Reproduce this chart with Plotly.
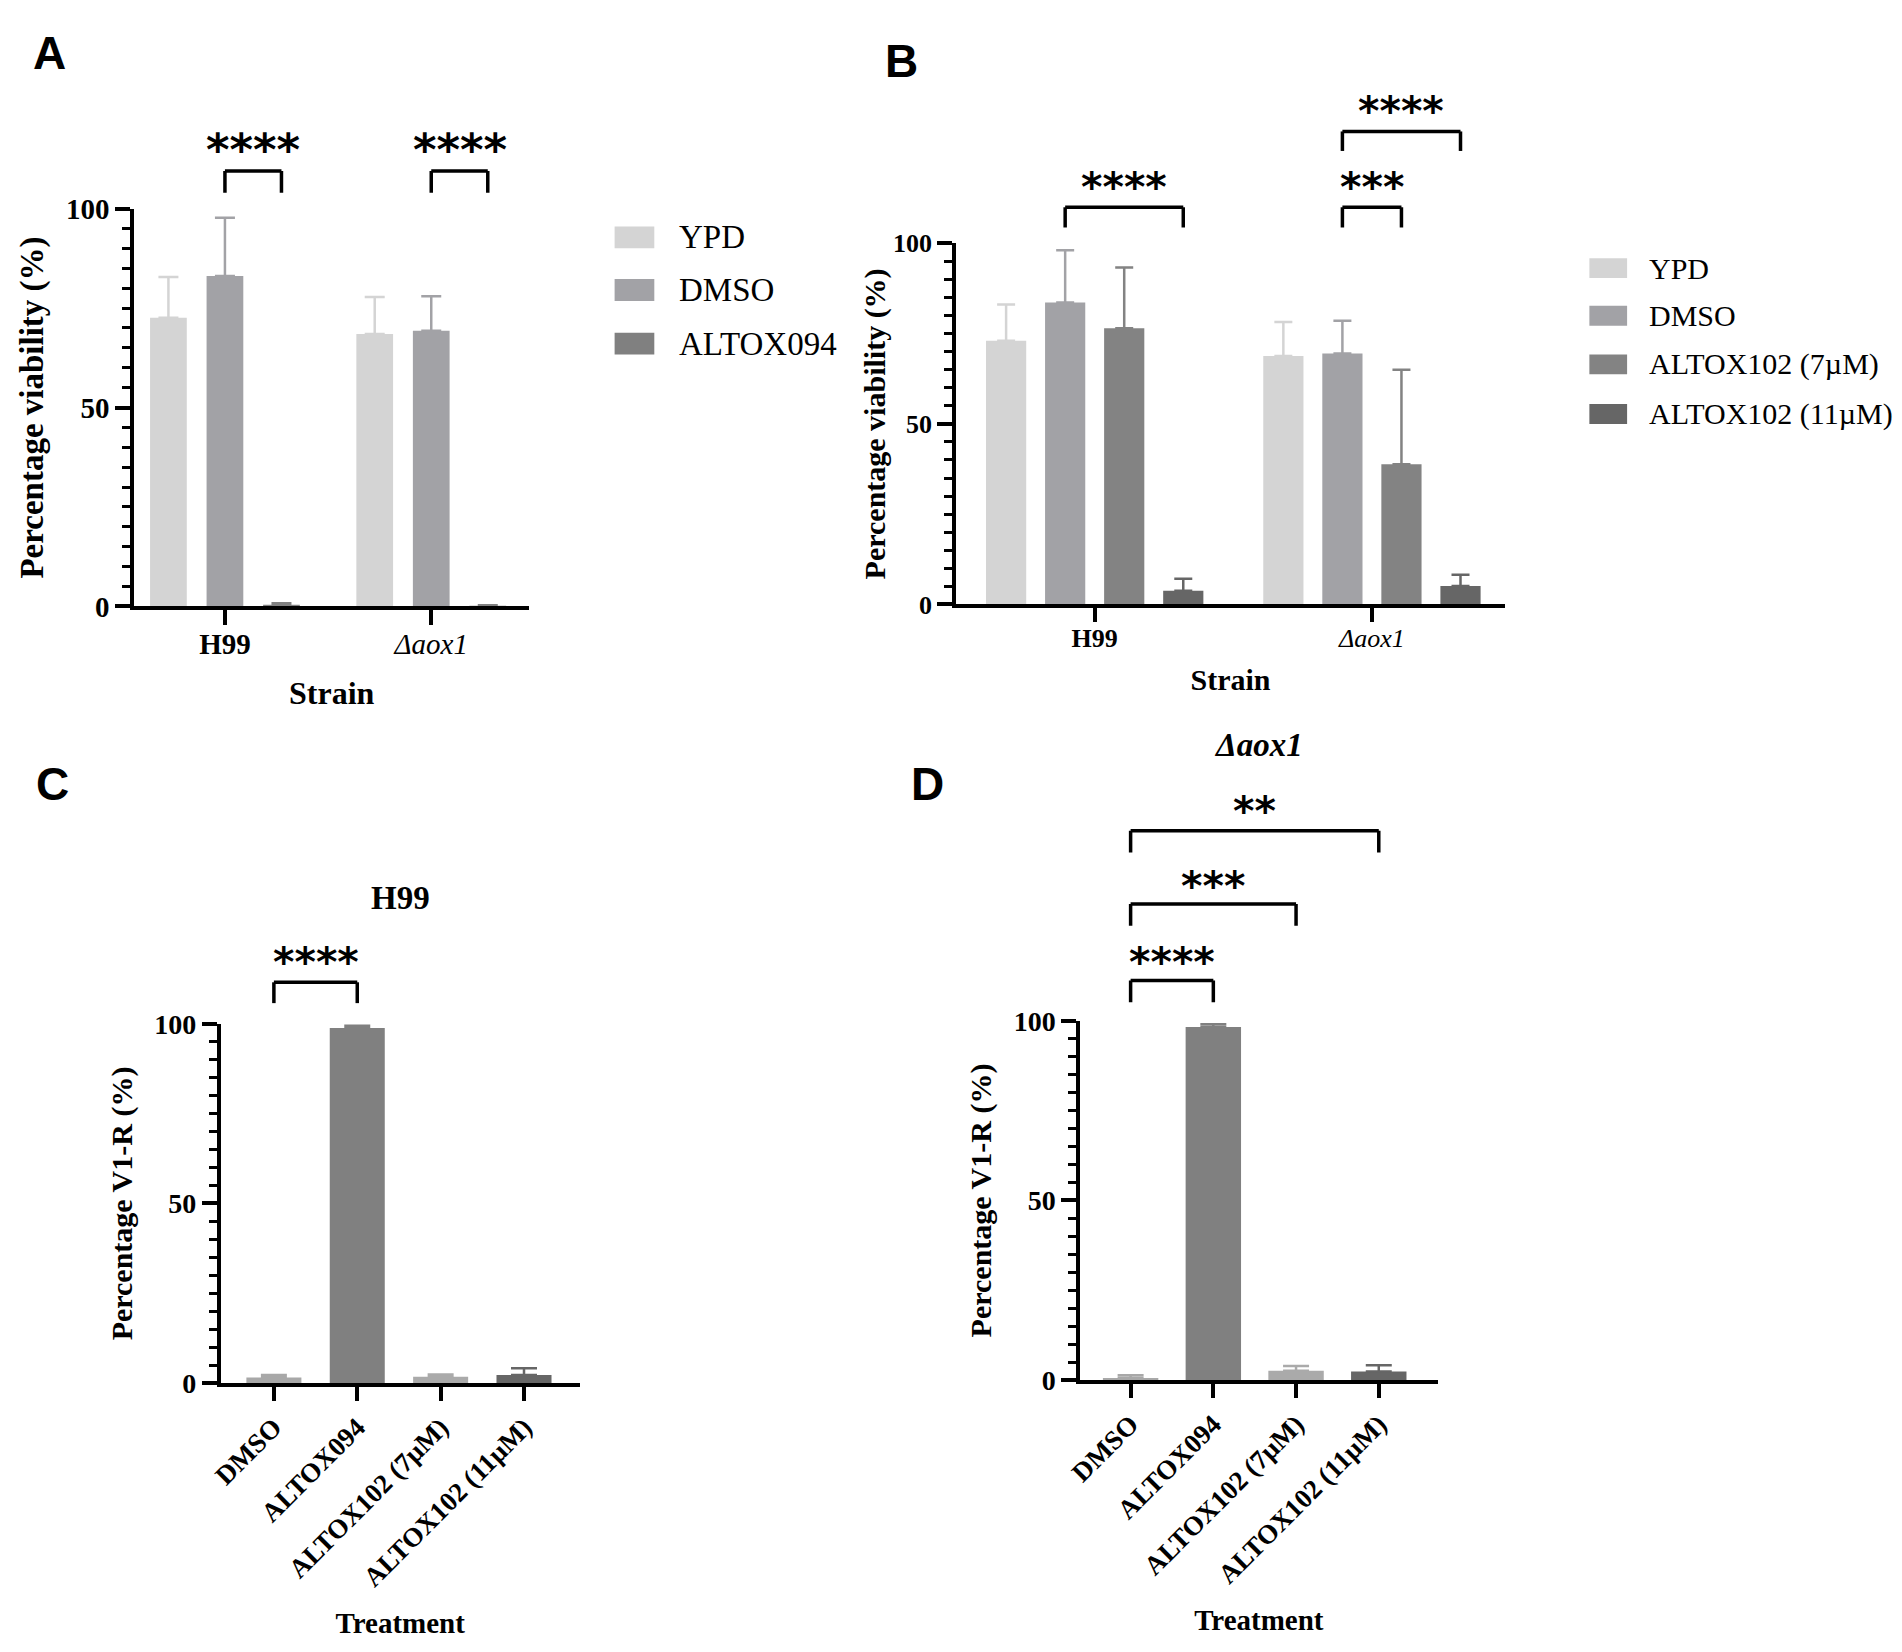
import plotly.graph_objects as go

# ---------------- data ----------------
strains = ["H99", "Δaox1"]
strain_ticktext = ["<b>H99</b>", "<i>Δaox1</i>"]

# panel A - viability, ALTOX094
a_series = ["YPD", "DMSO", "ALTOX094"]
a_ypd = [72.6, 68.5]
a_ypd_err = [10.2, 9.3]
a_dmso = [83.1, 69.3]
a_dmso_err = [14.6, 8.7]
a_altox094 = [0.2, 0.1]
a_altox094_err = [0.6, 0.2]

# panel B - viability, ALTOX102
b_series = ["YPD", "DMSO", "ALTOX102 (7µM)", "ALTOX102 (11µM)"]
b_ypd = [73.0, 68.8]
b_ypd_err = [10.1, 9.4]
b_dmso = [83.6, 69.5]
b_dmso_err = [14.5, 9.1]
b_altox7 = [76.5, 38.8]
b_altox7_err = [16.8, 26.2]
b_altox11 = [3.8, 5.1]
b_altox11_err = [3.3, 3.1]

# panels C / D - V1-R staining
treatments = ["DMSO", "ALTOX094", "ALTOX102 (7µM)", "ALTOX102 (11µM)"]
c_v1r = [1.5, 98.9, 1.75, 2.2]
c_v1r_err = [0.7, 0.6, 0.65, 1.9]
d_v1r = [0.55, 98.3, 2.6, 2.4]
d_v1r_err = [0.75, 0.8, 1.3, 1.7]

y_ticks = [0, 50, 100]

# significance: (category, bar from, bar to, stars)
a_sig = [(0, 1, 2, "****"), (1, 1, 2, "****")]
b_sig = [(0, 1, 3, "****"), (1, 1, 2, "***"), (1, 1, 3, "****")]
c_sig = [(0, 1, "****")]
d_sig = [(0, 1, "****"), (0, 2, "***"), (0, 3, "**")]

# ---------------- styling ----------------
W, H = 1902, 1652
SERIF = "Liberation Serif"
SANS = "Liberation Sans"

a_colors = ["#d4d4d4", "#a2a2a6", "#808080"]
b_colors = ["#d4d4d4", "#a2a2a6", "#838383", "#666666"]
cd_colors = ["#a8a8a8", "#808080", "#aaaaaa", "#666666"]


# pixel positions (measured on the original) -> paper fractions
def px(x):
    return (x - 14) / W


def py(y):
    return 1 - (y * (1 + 16 / 1400) - 16) / H


fig = go.Figure()


def grouped_bars(xa, ya, names, values, errors, colors, pitch, width, cap):
    n = len(names)
    for i in range(n):
        centre = (i - (n - 1) / 2) * pitch
        fig.add_trace(go.Bar(
            x=strains, y=values[i], name=names[i],
            xaxis=xa, yaxis=ya,
            width=width, offset=centre - width / 2,
            marker=dict(color=colors[i], line=dict(width=0)),
            error_y=dict(type="data", symmetric=False, array=errors[i],
                         arrayminus=[0] * len(strains), color=colors[i],
                         thickness=2.5, width=cap),
            showlegend=False,
        ))


def single_bars(xa, ya, values, errors, colors, width, cap):
    for i, t in enumerate(treatments):
        fig.add_trace(go.Bar(
            x=[t], y=[values[i]], name=t, xaxis=xa, yaxis=ya,
            width=width, marker=dict(color=colors[i], line=dict(width=0)),
            error_y=dict(type="data", symmetric=False, array=[errors[i]],
                         arrayminus=[0], color=colors[i],
                         thickness=2.5, width=cap),
            showlegend=False,
        ))


A_PITCH, B_PITCH = 0.274, 0.213
grouped_bars("x", "y", a_series,
             [a_ypd, a_dmso, a_altox094],
             [a_ypd_err, a_dmso_err, a_altox094_err],
             a_colors, pitch=A_PITCH, width=0.178, cap=10)
grouped_bars("x2", "y2", b_series,
             [b_ypd, b_dmso, b_altox7, b_altox11],
             [b_ypd_err, b_dmso_err, b_altox7_err, b_altox11_err],
             b_colors, pitch=B_PITCH, width=0.145, cap=9)
single_bars("x3", "y3", c_v1r, c_v1r_err, cd_colors, width=0.66, cap=13)
single_bars("x4", "y4", d_v1r, d_v1r_err, cd_colors, width=0.67, cap=13)

shapes = []
annotations = []


def bracket(xref, yref, x0, x1, top, leg, star_y, stars, size):
    line = dict(color="black", width=3.5)
    shapes.append(dict(type="line", xref=xref, yref=yref, x0=x0, x1=x0, y0=leg, y1=top, line=line))
    shapes.append(dict(type="line", xref=xref, yref=yref, x0=x1, x1=x1, y0=leg, y1=top, line=line))
    shapes.append(dict(type="line", xref=xref, yref=yref, x0=x0, x1=x1, y0=top, y1=top, line=line))
    annotations.append(dict(xref=xref, yref=yref, x=(x0 + x1) / 2, y=star_y, text=stars,
                            showarrow=False, yanchor="middle",
                            font=dict(family="DejaVu Sans", size=size, color="black", weight="bold")))


# A brackets
for cat, i0, i1, s in a_sig:
    bracket("x", "y domain", cat + (i0 - 1) * A_PITCH, cat + (i1 - 1) * A_PITCH,
            1.095, 1.040, 1.150, s, 45)
# B brackets
b_levels = [(1.1, 1.044, 1.155), (1.1, 1.044, 1.155), (1.31, 1.256, 1.366)]
for (cat, i0, i1, s), (top, leg, sy) in zip(b_sig, b_levels):
    bracket("x2", "y2 domain", cat + (i0 - 1.5) * B_PITCH, cat + (i1 - 1.5) * B_PITCH,
            top, leg, sy, s, 41)
# C brackets
for i0, i1, s in c_sig:
    bracket("x3", "y3 domain", i0, i1, 1.116, 1.058, 1.172, s, 41)
# D brackets
d_levels = [(1.113, 1.052, 1.165), (1.326, 1.265, 1.375), (1.530, 1.469, 1.585)]
for (i0, i1, s), (top, leg, sy) in zip(d_sig, d_levels):
    bracket("x4", "y4 domain", i0, i1, top, leg, sy, s, 41)


# hand-drawn legends (large swatches like the original)
def legend(names, colors, x_sw, rows, sw_w, sw_h, text_x, size):
    for name, col, yc in zip(names, colors, rows):
        shapes.append(dict(type="rect", xref="paper", yref="paper",
                           x0=px(x_sw), x1=px(x_sw + sw_w),
                           y0=py(yc + sw_h / 2), y1=py(yc - sw_h / 2),
                           fillcolor=col, line=dict(width=0)))
        annotations.append(dict(xref="paper", yref="paper", x=px(text_x), y=py(yc),
                                text=name, showarrow=False, xanchor="left", yanchor="middle",
                                font=dict(family=SERIF, size=size, color="black")))


legend(a_series, a_colors, 611, [231, 284, 338], 40, 22, 674, 33)
legend(b_series, b_colors, 1593, [262, 310, 359, 409], 38, 20, 1651, 30)

# panel titles and letters
annotations.append(dict(xref="x3 domain", yref="y3 domain", x=0.5, y=1.350, yanchor="middle",
                        text="<b>H99</b>", showarrow=False,
                        font=dict(family=SERIF, size=33, color="black")))
annotations.append(dict(xref="x4 domain", yref="y4 domain", x=0.5, y=1.770, yanchor="middle",
                        text="<b><i>Δaox1</i></b>", showarrow=False,
                        font=dict(family=SERIF, size=33, color="black")))
for letter, lx, ly in [("A", 42, 30), ("B", 900, 38), ("C", 45, 775), ("D", 926, 775)]:
    annotations.append(dict(xref="paper", yref="paper", x=(lx - 14) / W, y=1 - ly / H, text=letter,
                            showarrow=False, xanchor="center", yanchor="middle",
                            font=dict(family=SANS, size=46, color="black", weight="bold")))


def xaxis(dom, rng, tickvals, ticktext, title, tsize, tfont, angle, standoff, anchor, ticklen, lab_off=0):
    return dict(domain=[px(dom[0]), px(dom[1])], range=rng, type="category",
                tickmode="array", tickvals=tickvals, ticktext=ticktext, tickangle=angle,
                showline=True, linewidth=3.5, linecolor="black", ticks="outside",
                ticklen=ticklen, tickwidth=3.5, tickcolor="black", showgrid=False,
                zeroline=False, anchor=anchor, ticklabelstandoff=lab_off,
                tickfont=dict(family=SERIF, size=tfont, color="black", weight="bold"),
                title=dict(text="<b>" + title + "</b>", standoff=standoff,
                           font=dict(family=SERIF, size=tsize, color="black")))


def yaxis(dom, title, tsize, tfont, standoff, anchor):
    return dict(domain=[py(dom[1]), py(dom[0])], range=[0, 100],
                tickmode="array", tickvals=y_ticks,
                showline=True, linewidth=3.5, linecolor="black", ticks="outside",
                ticklen=15, tickwidth=3.5, tickcolor="black", showgrid=False,
                zeroline=False, anchor=anchor,
                minor=dict(dtick=5, tick0=0, ticks="outside", ticklen=8, tickwidth=3,
                           tickcolor="black", showgrid=False),
                tickfont=dict(family=SERIF, size=tfont, color="black", weight="bold"),
                title=dict(text="<b>" + title + "</b>", standoff=standoff,
                           font=dict(family=SERIF, size=tsize, color="black")))


ax_a = xaxis((127, 525), [-0.44, 1.475], strains, strain_ticktext, "Strain", 32, 29, 0, 24, "y", 15, -6)
ax_a["tickfont"]["weight"] = "normal"
ax_b = xaxis((955, 1508), [-0.50, 1.48], strains, strain_ticktext, "Strain", 30, 26, 0, 18, "y2", 14, -6)
ax_b["tickfont"]["weight"] = "normal"
ax_c = xaxis((214, 576), [-0.64, 3.67], treatments, treatments, "Treatment", 29, 27, -45, 22, "y3", 14)
ax_d = xaxis((1080, 1440), [-0.61, 3.71], treatments, treatments, "Treatment", 29, 27, -45, 22, "y4", 14)

fig.update_layout(
    width=W, height=H,
    margin=dict(l=0, r=0, t=0, b=0),
    paper_bgcolor="white", plot_bgcolor="white",
    barmode="overlay", showlegend=False,
    xaxis=ax_a, xaxis2=ax_b, xaxis3=ax_c, xaxis4=ax_d,
    yaxis=yaxis((202, 603), "Percentage viability (%)", 33, 29, 14, "x"),
    yaxis2=yaxis((237, 601), "Percentage viability (%)", 30, 26, 0, "x2"),
    yaxis3=yaxis((1024, 1386), "Percentage V1-R (%)", 30, 28, 14, "x3"),
    yaxis4=yaxis((1021, 1383), "Percentage V1-R (%)", 30, 28, 14, "x4"),
    shapes=shapes, annotations=annotations,
)

fig.write_html("out.html")
